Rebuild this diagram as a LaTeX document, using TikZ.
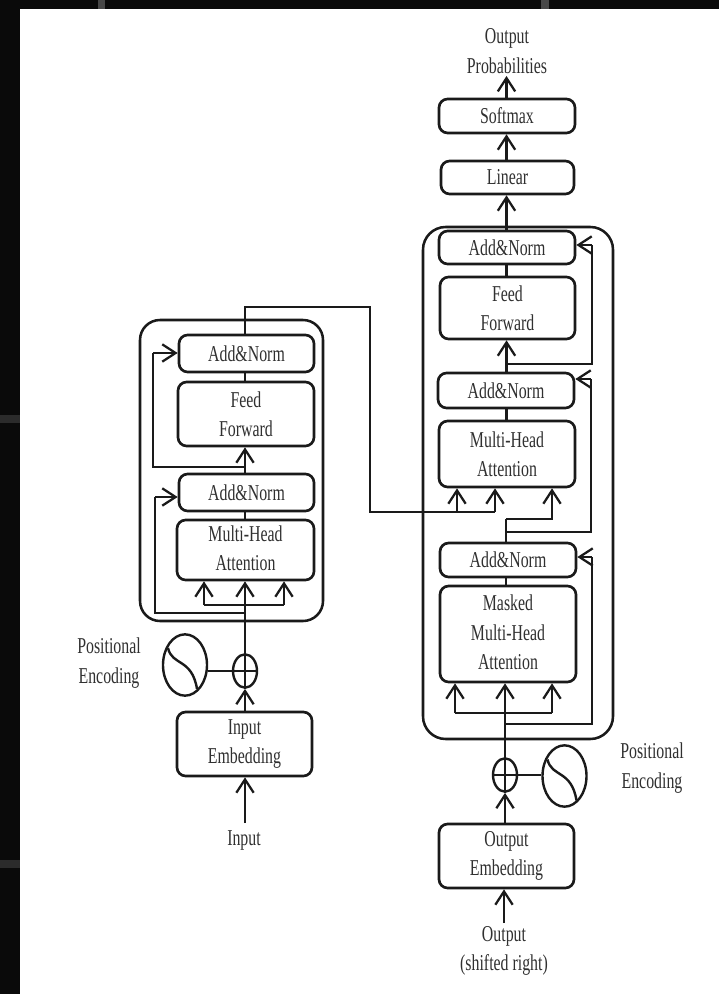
\documentclass[tikz,border=0pt]{standalone}
\usepackage{fontspec}
\setmainfont[FakeStretch=0.7]{Liberation Serif}
\usetikzlibrary{arrows.meta,shapes.geometric,calc}
\definecolor{inkc}{HTML}{1A1A1A}
\definecolor{txtc}{HTML}{303030}
\newcommand{\blockat}[6]{% name x1 y1 x2 y2 text
  \pgfmathsetmacro{\bw}{(#4-#2)*0.75}\pgfmathsetmacro{\bh}{(#5-#3)*0.75}
  \node[blockbox,minimum width=\bw pt,minimum height=\bh pt] (#1) at ({(#2+#4)/2},{(#3+#5)/2}) {#6};}
\newcommand{\liftline}[1]{\raisebox{2.6pt}{#1}}
\tikzset{
  blockbox/.style={draw=inkc,line width=2pt,rounded corners=6.5pt,fill=white,inner sep=0pt,align=center,font=\fontsize{17}{22}\selectfont,text=txtc},
  linkline/.style={draw=inkc,line width=1.8pt},
  linkarrow/.style={linkline,-{Straight Barb[length=10pt,width=13pt,line width=1.7pt]}},
  caption/.style={align=center,inner sep=0pt,font=\fontsize{17}{22}\selectfont,text=txtc},
  outerbox/.style={draw=inkc,line width=1.9pt,rounded corners=15pt},
  roundel/.style={ellipse,draw=inkc,line width=1.8pt,inner sep=0pt,fill=white},
}
\begin{document}
\begin{tikzpicture}[x=0.75pt,y=-0.75pt]
\useasboundingbox (0,0) rectangle (719,994);
\fill[black!96] (0,0) rectangle (719,994);
\fill[black!72] (98,0) rectangle (105,9);
\fill[black!72] (541,0) rectangle (549,9);
\fill[black!83] (0,415) rectangle (20,423);
\fill[black!83] (0,860) rectangle (20,868);
\fill[white] (20,9) rectangle (719,994);

% outer frames
\draw[outerbox] (140,320) rectangle (323,621);
\draw[outerbox,rounded corners=17pt] (423,227) rectangle (613,739);

% encoder
\blockat{eaddb}{179}{335}{314}{372}{Add\&Norm}
\blockat{eff}{178}{382}{314}{446}{Feed\\Forward}
\blockat{eadda}{179}{474}{314}{511}{Add\&Norm}
\blockat{emha}{177}{520}{314}{580}{\liftline{Multi-Head}\\\liftline{Attention}}
\blockat{eemb}{177}{712}{312}{776}{Input\\Embedding}
\node[roundel,minimum width=18pt,minimum height=25pt] (eplus) at (245,671) {};
\node[roundel,minimum width=33pt,minimum height=46pt] (esin) at (185,665) {};
\node[caption] (einput) at (244,840) {Input};
\node[caption] (epos) at (109,663) {Positional\\Encoding};

% decoder
\blockat{daddc}{439}{231}{575}{264}{Add\&Norm}
\blockat{dff}{440}{277}{575}{339}{Feed\\Forward}
\blockat{daddb}{438}{373}{574}{408}{Add\&Norm}
\blockat{dmha}{439}{421}{575}{487}{Multi-Head\\Attention}
\blockat{dadda}{440}{543}{576}{577}{Add\&Norm}
\blockat{dmask}{440}{586}{576}{682}{\liftline{Masked}\\\liftline{Multi-Head}\\\liftline{Attention}}
\blockat{demb}{439}{824}{574}{888}{Output\\Embedding}
\blockat{dlin}{441}{161}{574}{194}{Linear}
\blockat{dsoft}{439}{99}{575}{133}{Softmax}
\node[roundel,minimum width=18pt,minimum height=25pt] (dplus) at (505,775) {};
\node[roundel,minimum width=33pt,minimum height=46pt] (dsin) at (564.5,776) {};
\node[caption] (dprob) at (507,51) {Output\\Probabilities};
\node[caption] (dpos) at (652,768) {Positional\\Encoding};
\node[caption] (dout) at (504,951) {Output\\(shifted right)};

% free-end coordinates
\coordinate (ej1) at (245,467);
\coordinate (ej2) at (245,613);
\coordinate (ea1) at (204,605);
\coordinate (ea3) at (284,605);
\coordinate (ecorner) at (245,307);
\coordinate (ecorner2) at (370,307);
\coordinate (ecorner3) at (370,512);
\coordinate (da1) at (457,512);
\coordinate (da2) at (495,512);
\coordinate (dl1) at (455,713);
\coordinate (dl3) at (552,713);
\coordinate (dj1) at (505,724);
\coordinate (dj2) at (506,532);
\coordinate (dj3) at (506,519);
\coordinate (dj4) at (506.5,364);
\coordinate (dtop) at (506.5,76);
\coordinate (einb) at (245,823);
\coordinate (doutb) at (504,923);

% encoder links
\draw[linkarrow] (einb) -- (einb |- eemb.south);
\draw[linkarrow] (eemb.north -| eplus) -- (eplus.south);
\draw[linkline] (eplus.west) -- (eplus.east);
\draw[linkline] (esin.east |- eplus) -- (eplus.west);
\draw[linkarrow] (eplus.south) -- (emha.south -| eplus);
\draw[linkline] (ea1) -- (ea3);
\draw[linkarrow] (ea3) -- (ea3 |- emha.south);
\draw[linkarrow] (ea1) -- (ea1 |- emha.south);
\draw[linkline] (ej2) -| (155,497) coordinate (e2top);
\draw[linkarrow] (e2top) -- (eadda.west |- e2top);
\draw[linkline] (ej1) -| (153,353) coordinate (e1top);
\draw[linkarrow] (e1top) -- (eaddb.west |- e1top);
\draw[linkline] (emha.north -| ej1) -- (eadda.south -| ej1);
\draw[linkarrow] (eadda.north -| ej1) -- (eff.south -| ej1);
\draw[linkline] (eff.north -| ej1) -- (eaddb.south -| ej1);
\draw[linkline] (eaddb.north -| ecorner) -- (ecorner) -- (ecorner2) -- (ecorner3) -- (da2);
\draw[linkarrow] (da1) -- (da1 |- dmha.south);
\draw[linkarrow] (da2) -- (da2 |- dmha.south);

% decoder links
\draw[linkarrow] (doutb) -- (doutb |- demb.south);
\draw[linkarrow] (demb.north -| dplus) -- (dplus.south);
\draw[linkline] (dplus.west) -- (dplus.east);
\draw[linkline] (dplus.east) -- (dsin.west |- dplus.east);
\draw[linkarrow] (dplus.south) -- (dmask.south -| dplus);
\draw[linkline] (dl1) -- (dl3);
\draw[linkarrow] (dl1) -- (dl1 |- dmask.south);
\draw[linkarrow] (dl3) -- (dl3 |- dmask.south);
\draw[linkline] (dj1) -| (592,557) coordinate (dlt);
\draw[linkarrow] (dlt) -- (dadda.east |- dlt);
\draw[linkline] (dmask.north -| dj2) -- (dadda.south -| dj2);
\draw[linkline] (dadda.north -| dj2) -- (dj3);
\draw[linkline] (dj3) -| (552,500) coordinate (dmr);
\draw[linkarrow] (dmr) -- (dmr |- dmha.south);
\draw[linkline] (dj2) -| (591,379) coordinate (dmt);
\draw[linkarrow] (dmt) -- (daddb.east |- dmt);
\draw[linkline] (dmha.north -| dj4) -- (daddb.south -| dj4);
\draw[linkarrow] (daddb.north -| dj4) -- (dff.south -| dj4);
\draw[linkline] (dj4) -| (592,245) coordinate (dtt);
\draw[linkarrow] (dtt) -- (daddc.east |- dtt);
\draw[linkline] (dff.north -| dj4) -- (daddc.south -| dj4);
\draw[linkarrow] (daddc.north -| dj4) -- (dlin.south -| dj4);
\draw[linkarrow] (dlin.north -| dj4) -- (dsoft.south -| dj4);
\draw[linkarrow] (dsoft.north -| dtop) -- (dtop);

% sine curves inside oscillators
\draw[linkline] (168,648) .. controls (172,666) and (192,658) .. (197,689);
\draw[linkline] (547.5,759.5) .. controls (551.5,777.5) and (571.5,769.5) .. (576.5,800.5);
\end{tikzpicture}
\end{document}
